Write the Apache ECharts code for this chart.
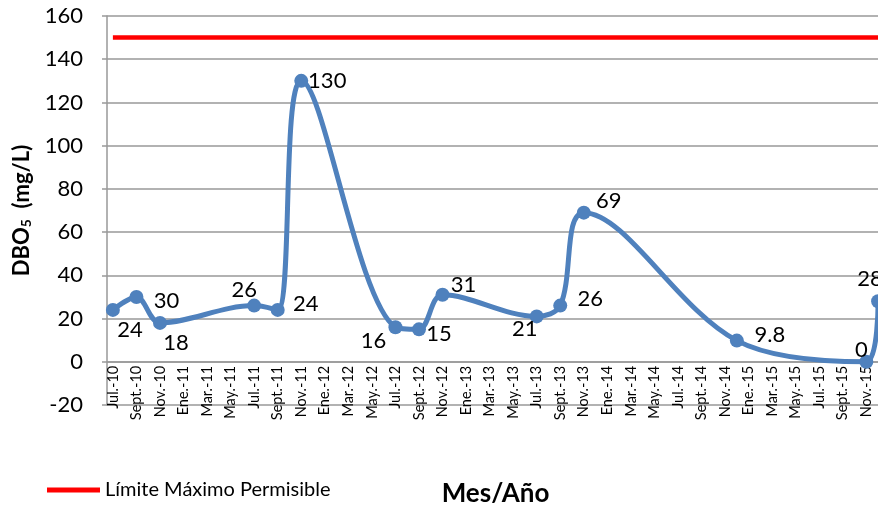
<!DOCTYPE html>
<html>
<head>
<meta charset="utf-8">
<script src="https://cdn.jsdelivr.net/npm/echarts@6/dist/echarts.min.js"></script>
<style>
  html, body { margin: 0; padding: 0; background: #ffffff; }
  #chart { width: 878px; height: 510px; }
</style>
</head>
<body>
<div id="chart"></div>
<script>
// Monthly categories, Jul. 2010 to Dec. 2015 (only every second month is labelled)
const months = [
  'Jul.-10', 'Ago.-10', 'Sept.-10', 'Oct.-10', 'Nov.-10', 'Dic.-10',
  'Ene.-11', 'Feb.-11', 'Mar.-11', 'Abr.-11', 'May.-11', 'Jun.-11',
  'Jul.-11', 'Ago.-11', 'Sept.-11', 'Oct.-11', 'Nov.-11', 'Dic.-11',
  'Ene.-12', 'Feb.-12', 'Mar.-12', 'Abr.-12', 'May.-12', 'Jun.-12',
  'Jul.-12', 'Ago.-12', 'Sept.-12', 'Oct.-12', 'Nov.-12', 'Dic.-12',
  'Ene.-13', 'Feb.-13', 'Mar.-13', 'Abr.-13', 'May.-13', 'Jun.-13',
  'Jul.-13', 'Ago.-13', 'Sept.-13', 'Oct.-13', 'Nov.-13', 'Dic.-13',
  'Ene.-14', 'Feb.-14', 'Mar.-14', 'Abr.-14', 'May.-14', 'Jun.-14',
  'Jul.-14', 'Ago.-14', 'Sept.-14', 'Oct.-14', 'Nov.-14', 'Dic.-14',
  'Ene.-15', 'Feb.-15', 'Mar.-15', 'Abr.-15', 'May.-15', 'Jun.-15',
  'Jul.-15', 'Ago.-15', 'Sept.-15', 'Oct.-15', 'Nov.-15', 'Dic.-15'
];

// Sampling dates and measured DBO5 (mg/L)
const sampleMonths = [
  'Jul.-10', 'Sept.-10', 'Nov.-10', 'Jul.-11', 'Sept.-11', 'Nov.-11',
  'Jul.-12', 'Sept.-12', 'Nov.-12', 'Jul.-13', 'Sept.-13', 'Nov.-13',
  'Dic.-14', 'Nov.-15', 'Dic.-15'
];
const dboValues = [24, 30, 18, 26, 24, 130, 16, 15, 31, 21, 26, 69, 9.8, 0, 28];

// Maximum permissible limit
const limitName = 'Límite Máximo Permisible';
const limitValue = 150;

// Y axis range
const yMin = -20, yMax = 160, yStep = 20;

// Where each value label sits relative to its point [dx, dy]
const labelOffsets = [
  [17, 20], [30, 4], [16, 20], [-10, -16], [28, -6], [26, 0],
  [-22, 14], [20, 5], [21, -10], [-12, 13], [30, -7], [25, -12],
  [33, -6], [-5, -12], [-8, -22]
];

const FONT = 'Lato, "Open Sans", sans-serif';

const chart = echarts.init(document.getElementById('chart'), null, { renderer: 'canvas' });

const dboData = sampleMonths.map((m, i) => ({
  value: [m, dboValues[i]],
  label: { offset: labelOffsets[i] }
}));

chart.setOption({
  animation: false,
  backgroundColor: '#ffffff',
  grid: { left: 107, top: 16, bottom: 105, right: -6, containLabel: false, outerBoundsMode: 'none' },
  legend: {
    data: [limitName],
    left: 42,
    top: 475,
    itemWidth: 53,
    itemHeight: 5,
    itemGap: 12,
    icon: 'rect',
    textStyle: { fontFamily: FONT, fontSize: 20, color: '#000' }
  },
  xAxis: {
    type: 'category',
    data: months,
    boundaryGap: true,
    // the axis sits on the zero line, one band above the plot bottom
    offset: -43.2,
    name: 'Mes/Año',
    nameLocation: 'middle',
    nameGap: 119,
    nameTextStyle: { fontFamily: FONT, fontSize: 26, fontWeight: 'bold', color: '#000' },
    axisLine: { onZero: false, lineStyle: { color: '#999', width: 1.5 } },
    axisTick: { show: false },
    axisLabel: {
      interval: 1,
      rotate: 90,
      margin: 4,
      fontFamily: FONT,
      fontSize: 14.5,
      color: '#000'
    },
    splitLine: { show: false }
  },
  yAxis: {
    type: 'value',
    min: yMin,
    max: yMax,
    interval: yStep,
    name: '{b|DBO}{s|5}{b|  (mg/L)}',
    nameLocation: 'middle',
    nameRotate: 90,
    nameGap: 72,
    nameTextStyle: {
      rich: {
        b: { fontFamily: FONT, fontSize: 22, fontWeight: 'bold', color: '#000' },
        s: { fontFamily: FONT, fontSize: 14, fontWeight: 'bold', color: '#000', verticalAlign: 'bottom', padding: [10, 0, 0, 0] }
      }
    },
    axisLine: { show: true, lineStyle: { color: '#999', width: 1.5 } },
    axisTick: { show: true, length: 5, lineStyle: { color: '#999', width: 1.5 } },
    axisLabel: { fontFamily: FONT, fontSize: 22, color: '#000', margin: 24 },
    splitLine: { lineStyle: { color: '#999', width: 1.5 } }
  },
  series: [
    {
      name: limitName,
      type: 'line',
      data: [[months[0], limitValue], [months[months.length - 1], limitValue]],
      symbol: 'none',
      lineStyle: { color: '#ff0000', width: 4.5 },
      itemStyle: { color: '#ff0000' },
      z: 2
    },
    {
      name: 'DBO5',
      type: 'line',
      data: dboData,
      smooth: 0.35,
      symbol: 'circle',
      symbolSize: 14,
      showAllSymbol: true,
      lineStyle: { color: '#4f81bd', width: 5 },
      itemStyle: { color: '#4f81bd' },
      label: {
        show: true,
        position: 'inside',
        fontFamily: FONT,
        fontSize: 22,
        color: '#000',
        formatter: p => String(p.value[1])
      },
      z: 3
    }
  ]
});
</script>
</body>
</html>
